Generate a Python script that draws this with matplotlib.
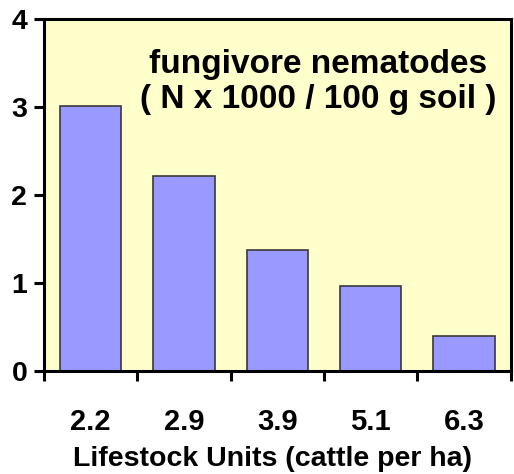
import matplotlib
matplotlib.use('Agg')
import matplotlib.pyplot as plt
import numpy as np

# lifestock units (cattle per ha) and fungivore nematode counts
categories = ['2.2', '2.9', '3.9', '5.1', '6.3']
values = [3.01, 2.22, 1.38, 0.97, 0.40]
y_ticks = [0, 1, 2, 3, 4]

plt.rcParams['font.family'] = ['Liberation Sans', 'DejaVu Sans']
plt.rcParams['font.weight'] = 'bold'

fig = plt.figure(figsize=(5.14, 4.74), dpi=100)
ax = fig.add_axes([0.0856, 0.2173, 0.908, 0.7427])
ax.set_facecolor('#FFFFCC')

x = np.arange(len(categories))
ax.bar(x, values, width=0.66, color='#9999FF', edgecolor='#3a3a3a', linewidth=1.2, zorder=2)

ax.set_xlim(-0.5, len(categories) - 0.5)
ax.set_ylim(0, 4)
ax.set_yticks(y_ticks)
ax.set_yticklabels([str(t) for t in y_ticks], fontsize=20.5, fontweight='bold')

# ticks between the bars, labels centred under them
ax.set_xticks(np.arange(-0.5, len(categories), 1.0))
ax.set_xticklabels([])
ax.set_xticks(x, minor=True)
ax.set_xticklabels(categories, minor=True, fontsize=21, fontweight='bold')
ax.tick_params(axis='x', which='major', direction='out', length=7, width=2.2)
ax.tick_params(axis='x', which='minor', length=0, pad=27)
ax.tick_params(axis='y', direction='out', length=7, width=2.2, pad=5)

for s in ax.spines.values():
    s.set_linewidth(2.2)

ax.set_xlabel('Lifestock Units (cattle per ha)', fontsize=20.5, fontweight='bold')
ax.xaxis.set_label_coords(0.49, -0.212)
ax.xaxis.label.set_va('top')

ax.text(2.44, 3.48, 'fungivore nematodes', ha='center', va='center', fontsize=24, fontweight='bold')
ax.text(2.44, 3.08, '( N x 1000 / 100 g soil )', ha='center', va='center', fontsize=24, fontweight='bold')

fig.savefig('out.png', dpi=100)
